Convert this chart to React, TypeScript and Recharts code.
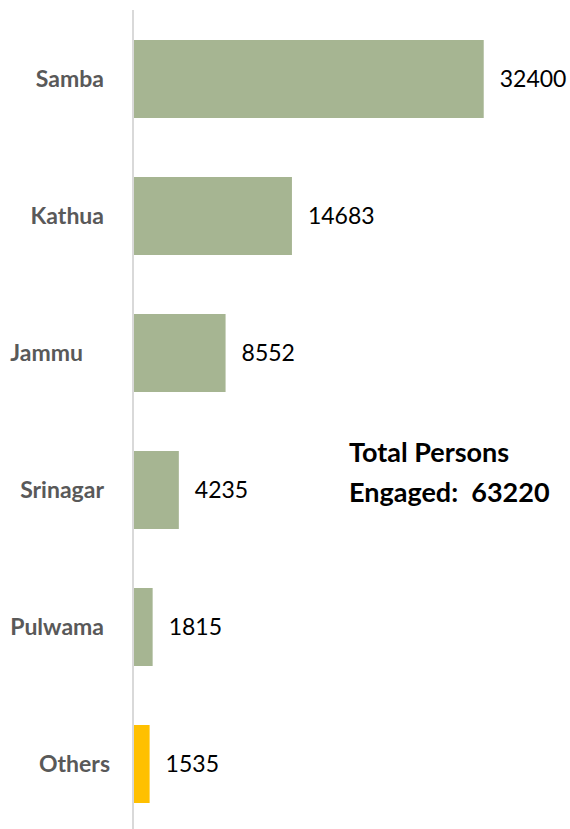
import { Bar, BarChart, Cell, LabelList, XAxis, YAxis } from "recharts";

const districts = ["Samba", "Kathua", "Jammu", "Srinagar", "Pulwama", "Others"];
const persons = [32400, 14683, 8552, 4235, 1815, 1535];
const totalPersons = 63220;

const GREEN = "#a6b592";
const GOLD = "#ffc000";
const FONT = "Lato, 'Open Sans', sans-serif";

// Excel placed a couple of the category labels a bit off the common right edge
const LABEL_SHIFT: Record<string, number> = { Jammu: -21, Others: 6 };

const data = districts.map((name, i) => ({ name, persons: persons[i] }));

function DistrictTick(props: any) {
  const { y, payload } = props;
  const name = payload.value as string;
  return (
    <text
      x={104 + (LABEL_SHIFT[name] ?? 0)}
      y={y}
      dy="0.35em"
      textAnchor="end"
      fill="#595959"
      fontSize={23}
      fontWeight={700}
      fontFamily={FONT}
    >
      {name}
    </text>
  );
}

export default function App() {
  return (
    <div
      style={{
        position: "absolute",
        left: 0,
        top: 0,
        width: 570,
        height: 829,
        overflow: "hidden",
        background: "#ffffff",
      }}
    >
      <BarChart
        width={570}
        height={832}
        data={data}
        layout="vertical"
        margin={{ top: 10, right: 4, bottom: 0, left: 0 }}
        barSize={78}
      >
        <XAxis type="number" domain={[0, 40000]} hide />
        <YAxis
          type="category"
          dataKey="name"
          width={133}
          tickLine={false}
          axisLine={{ stroke: "#d9d9d9", strokeWidth: 2 }}
          tick={<DistrictTick />}
          interval={0}
        />
        <Bar dataKey="persons" isAnimationActive={false}>
          {data.map((d) => (
            <Cell key={d.name} fill={d.name === "Others" ? GOLD : GREEN} />
          ))}
          <LabelList
            dataKey="persons"
            position="right"
            offset={16}
            fill="#000000"
            fontSize={23}
            fontFamily={FONT}
          />
        </Bar>
      </BarChart>
      <div
        style={{
          position: "absolute",
          left: 349,
          top: 432,
          fontFamily: FONT,
          fontWeight: 700,
          fontSize: 27,
          lineHeight: "40px",
          color: "#000000",
          whiteSpace: "pre",
        }}
      >
        {"Total Persons\nEngaged:  " + totalPersons}
      </div>
    </div>
  );
}
